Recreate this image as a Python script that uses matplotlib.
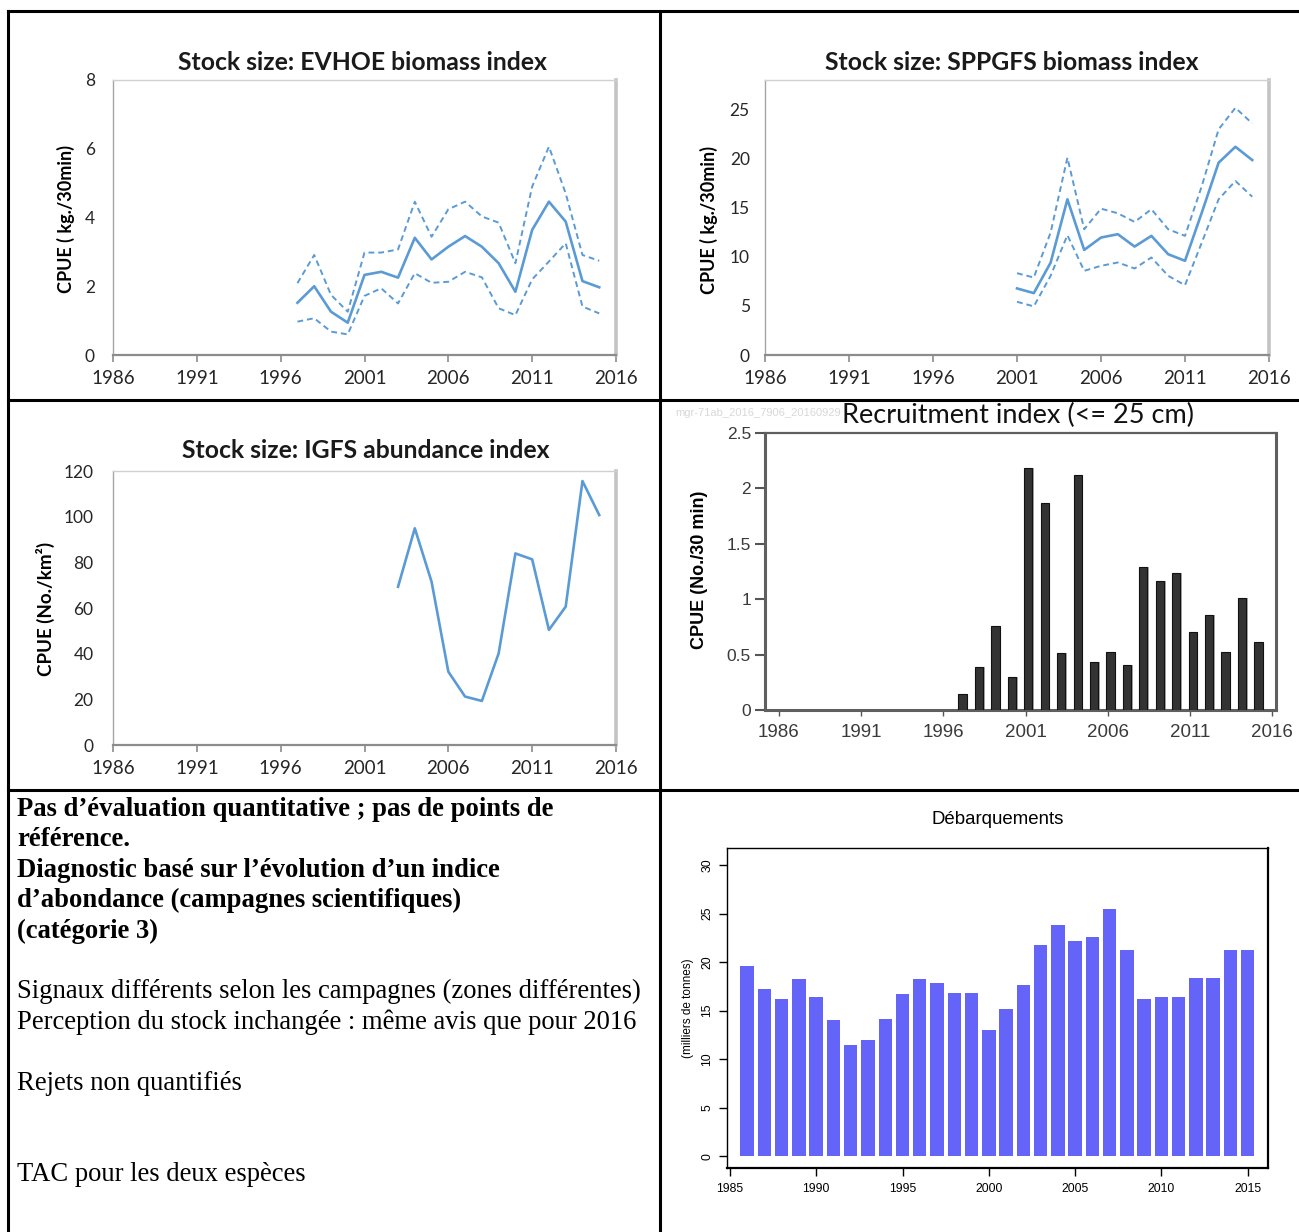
import matplotlib
matplotlib.use('Agg')
import matplotlib.pyplot as plt
from matplotlib.lines import Line2D
from matplotlib import font_manager
import numpy as np

# ---------------- data ----------------
x_ticks_excel = [1986, 1991, 1996, 2001, 2006, 2011, 2016]

evhoe_years = list(range(1997, 2016))
evhoe_mean = [1.52, 2.0, 1.26, 0.94, 2.33, 2.42, 2.25, 3.41, 2.78, 3.15, 3.46, 3.15, 2.67, 1.84, 3.64, 4.46, 3.88, 2.15, 1.97]
evhoe_upper = [2.09, 2.91, 1.75, 1.26, 2.98, 2.98, 3.07, 4.46, 3.44, 4.24, 4.46, 4.03, 3.85, 2.67, 4.9, 6.06, 4.7, 2.91, 2.74]
evhoe_lower = [0.97, 1.07, 0.68, 0.6, 1.72, 1.94, 1.5, 2.38, 2.1, 2.13, 2.42, 2.26, 1.36, 1.16, 2.2, 2.72, 3.25, 1.41, 1.21]

sppgfs_years = list(range(2001, 2016))
sppgfs_mean = [6.78, 6.3, 9.4, 15.85, 10.7, 11.96, 12.3, 11.04, 12.13, 10.26, 9.59, 14.5, 19.58, 21.2, 19.85]
sppgfs_upper = [8.33, 7.89, 12.47, 20.09, 12.8, 14.9, 14.43, 13.55, 14.84, 12.8, 12.13, 17.2, 22.97, 25.17, 23.58]
sppgfs_lower = [5.42, 4.95, 8.06, 12.2, 8.57, 9.08, 9.42, 8.81, 9.93, 8.06, 7.11, 11.45, 15.85, 17.72, 16.12]

igfs_years = list(range(2003, 2016))
igfs_values = [69.3, 94.9, 71.5, 32.1, 21.2, 19.3, 40.1, 83.9, 81.3, 50.4, 60.6, 115.6, 100.7]

rec_years = list(range(1997, 2016))
rec_values = [0.144, 0.39, 0.757, 0.294, 2.18, 1.87, 0.51, 2.12, 0.436, 0.526, 0.406, 1.29, 1.163, 1.232, 0.70, 0.856, 0.526, 1.01, 0.616]

land_years = list(range(1986, 2016))
land_values = [19.6, 17.23, 16.2, 18.27, 16.44, 14.04, 11.46, 11.94, 14.14, 16.68,
               18.23, 17.82, 16.86, 16.86, 13.0, 15.14, 17.65, 21.74, 23.8, 22.15,
               22.57, 25.49, 21.29, 16.24, 16.41, 16.41, 18.37, 18.37, 21.26, 21.26]

bold_lines = ["Pas d’évaluation quantitative ; pas de points de",
              "référence.",
              "Diagnostic basé sur l’évolution d’un indice",
              "d’abondance (campagnes scientifiques)",
              "(catégorie 3)"]
normal_lines = ["Signaux différents selon les campagnes (zones différentes)",
                "Perception du stock inchangée : même avis que pour 2016",
                "",
                "Rejets non quantifiés",
                "",
                "",
                "TAC pour les deux espèces"]

# ---------------- setup ----------------
plt.rcParams['font.family'] = ['Lato', 'DejaVu Sans']
W, H = 1299, 1232
fig = plt.figure(figsize=(W / 100, H / 100), dpi=100)
fig.patch.set_facecolor('white')

def X(x):
    return x / W

def Y(y):
    return 1 - y / H

def add_ax(l, t, r, b):
    return fig.add_axes([l / W, 1 - b / H, (r - l) / W, (b - t) / H])

avail = {f.name for f in font_manager.fontManager.ttflist}
narrow = ['Liberation Sans Narrow', 'DejaVu Sans'] if 'Liberation Sans Narrow' in avail else ['Liberation Sans', 'DejaVu Sans']

blue = '#5B9BD5'

def excel_style(ax, ylim, yticks, ypad):
    ax.set_xlim(1986, 2016)
    ax.set_ylim(*ylim)
    ax.set_xticks(x_ticks_excel)
    ax.set_yticks(yticks)
    ax.tick_params(axis='x', direction='out', length=5, width=1.2, color='#8c8c8c',
                   pad=6, labelsize=13.5, labelcolor='#262626')
    ax.tick_params(axis='y', length=0, pad=ypad, labelsize=12.5, labelcolor='#262626')
    ax.spines['left'].set_color('#a6a6a6')
    ax.spines['left'].set_linewidth(1.0)
    ax.spines['bottom'].set_color('#8c8c8c')
    ax.spines['bottom'].set_linewidth(1.6)
    ax.spines['top'].set_color('#d0d0d0')
    ax.spines['top'].set_linewidth(1.0)
    ax.spines['right'].set_color('#c4c4c4')
    ax.spines['right'].set_linewidth(2.6)

title_fs = 17.8
ylab_fs = 13

# ---------------- panel 1: EVHOE ----------------
ax1 = add_ax(113, 80, 616, 355)
excel_style(ax1, (0, 8), [0, 2, 4, 6, 8], 13)
ax1.plot(evhoe_years, evhoe_mean, color=blue, lw=1.9)
ax1.plot(evhoe_years, evhoe_upper, color=blue, lw=1.4, ls=(0, (3, 2)))
ax1.plot(evhoe_years, evhoe_lower, color=blue, lw=1.4, ls=(0, (3, 2)))
fig.text(X(362), Y(63), 'Stock size: EVHOE biomass index', ha='center', va='center',
         fontsize=title_fs, fontweight='bold', color='#1a1a1a')
fig.text(X(66), Y(219), 'CPUE ( kg./30min)', rotation=90, ha='center', va='center',
         fontsize=ylab_fs, fontweight='bold')

# ---------------- panel 2: SPPGFS ----------------
ax2 = add_ax(765, 80, 1269, 355)
excel_style(ax2, (0, 28), [0, 5, 10, 15, 20, 25], 11)
ax2.plot(sppgfs_years, sppgfs_mean, color=blue, lw=1.9)
ax2.plot(sppgfs_years, sppgfs_upper, color=blue, lw=1.4, ls=(0, (3, 2)))
ax2.plot(sppgfs_years, sppgfs_lower, color=blue, lw=1.4, ls=(0, (3, 2)))
fig.text(X(1012), Y(63), 'Stock size: SPPGFS biomass index', ha='center', va='center',
         fontsize=title_fs, fontweight='bold', color='#1a1a1a')
fig.text(X(709), Y(220), 'CPUE ( kg./30min)', rotation=90, ha='center', va='center',
         fontsize=ylab_fs, fontweight='bold')

# ---------------- panel 3: IGFS ----------------
ax3 = add_ax(113, 471, 616, 745)
excel_style(ax3, (0, 120), [0, 20, 40, 60, 80, 100, 120], 14)
ax3.plot(igfs_years, igfs_values, color=blue, lw=1.9)
fig.text(X(366), Y(450), 'Stock size: IGFS abundance index', ha='center', va='center',
         fontsize=title_fs, fontweight='bold', color='#1a1a1a')
fig.text(X(45), Y(609), 'CPUE (No./km²)', rotation=90, ha='center', va='center',
         fontsize=13.5, fontweight='bold')

# ---------------- panel 4: recruitment ----------------
ax4 = add_ax(765, 433, 1276, 710)
ax4.set_xlim(1985.15, 2016.24)
ax4.set_ylim(0, 2.5)
ax4.bar(np.array(rec_years) + 0.27, rec_values, width=0.5, color='#a8a8a8', zorder=2)
ax4.bar(np.array(rec_years) + 0.17, rec_values, width=0.5, color='#333333',
        edgecolor='#111111', linewidth=0.8, zorder=3)
ax4.set_xticks(x_ticks_excel)
ax4.set_yticks([0, 0.5, 1, 1.5, 2, 2.5])
ax4.set_yticklabels(['0', '0.5', '1', '1.5', '2', '2.5'])
ax4.tick_params(axis='x', direction='out', length=4, width=1, color='#555555', pad=6,
                labelsize=13.5, labelcolor='#3a3a3a')
ax4.tick_params(axis='y', direction='out', length=7, width=1.5, color='#555555', pad=3,
                labelsize=12.5, labelcolor='#3a3a3a')
for lbl in ax4.get_xticklabels() + ax4.get_yticklabels():
    lbl.set_family(narrow)
for s in ax4.spines.values():
    s.set_color('#5f5f5f')
    s.set_linewidth(2.2)
ax4.spines['top'].set_linewidth(1.6)
fig.text(X(1018), Y(415), 'Recruitment index (<= 25 cm)', ha='center', va='center',
         fontsize=19.5, color='#111111')
fig.text(X(758), Y(413), 'mgr-71ab_2016_7906_20160929', ha='center', va='center',
         fontsize=8, color='#d8d8d8', family=['Liberation Sans', 'DejaVu Sans'])
fig.text(X(699), Y(570), 'CPUE (No./30 min)', rotation=90, ha='center', va='center',
         fontsize=13, fontweight='bold', family=['Liberation Sans', 'DejaVu Sans'])

# ---------------- panel 5: landings ----------------
ax5 = add_ax(727, 848, 1268, 1168)
ax5.set_xlim(1984.83, 2016.18)
ax5.set_ylim(-1.2, 31.75)
ax5.bar(land_years, land_values, width=0.78, color='#6464F8', zorder=2)
ax5.set_xticks([1985, 1990, 1995, 2000, 2005, 2010, 2015])
ax5.set_yticks([0, 5, 10, 15, 20, 25, 30])
ax5.tick_params(axis='x', direction='out', length=6, width=1, pad=5, labelsize=8.8)
ax5.tick_params(axis='y', direction='out', length=6, width=1, pad=4, labelsize=8.8)
for lbl in ax5.get_xticklabels() + ax5.get_yticklabels():
    lbl.set_family(['Liberation Sans', 'DejaVu Sans'])
for lbl in ax5.get_yticklabels():
    lbl.set_rotation(90)
    lbl.set_va('center')
for s in ax5.spines.values():
    s.set_color('black')
    s.set_linewidth(1.0)
ax5.spines['right'].set_linewidth(1.6)
ax5.spines['bottom'].set_linewidth(1.6)
fig.text(X(998), Y(819), 'Débarquements', ha='center', va='center', fontsize=13.4,
         family=['Liberation Sans', 'DejaVu Sans'])
fig.text(X(688), Y(1008), '(milliers de tonnes)', rotation=90, ha='center', va='center',
         fontsize=8.5, family=['Liberation Sans', 'DejaVu Sans'])

# ---------------- text panel ----------------
serif = ['Liberation Serif', 'DejaVu Serif']
base = 816
step = 30.4
for i, line in enumerate(bold_lines):
    fig.text(X(17), Y(base + i * step), line, ha='left', va='baseline',
             fontsize=19.2, fontweight='bold', family=serif)
for j, line in enumerate(normal_lines):
    if line:
        fig.text(X(17), Y(base + (len(bold_lines) + 1 + j) * step), line, ha='left',
                 va='baseline', fontsize=19.2, family=serif)

# ---------------- table borders ----------------
lw_b = 2.2
def hline(y, x0, x1):
    fig.add_artist(Line2D([X(x0), X(x1)], [Y(y), Y(y)], transform=fig.transFigure,
                          color='black', lw=lw_b))

def vline(x, y0, y1):
    fig.add_artist(Line2D([X(x), X(x)], [Y(y0), Y(y1)], transform=fig.transFigure,
                          color='black', lw=lw_b))

hline(11, 8, 1299)
hline(400, 8, 1299)
hline(790, 8, 1299)
vline(8, 11, 1232)
vline(660, 11, 1232)

fig.savefig('out.png', dpi=100)
